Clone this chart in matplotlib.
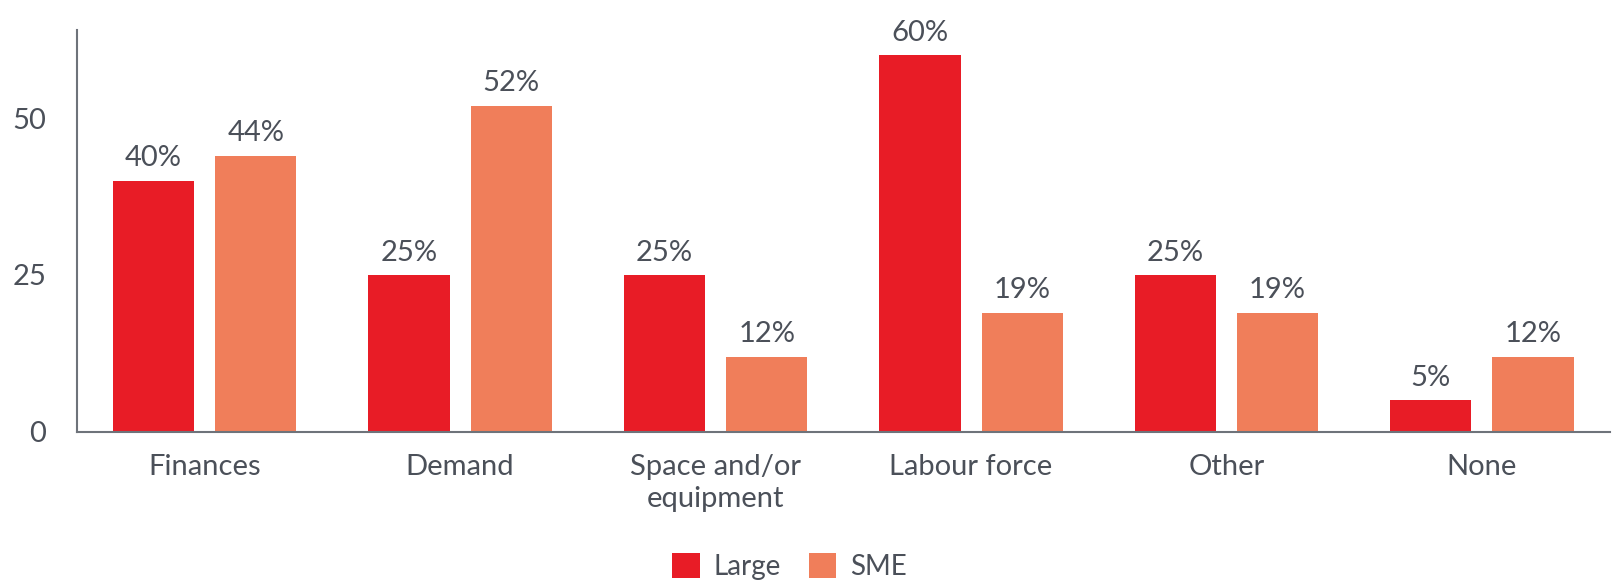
import matplotlib.pyplot as plt
import numpy as np

categories = ["Finances", "Demand", "Space and/or\nequipment", "Labour force", "Other", "None"]
large = [40, 25, 25, 60, 25, 5]
sme = [44, 52, 12, 19, 19, 12]

RED = "#E81C26"
SALMON = "#F07E5A"
TXT = "#4B5059"
AXC = "#6E737A"

plt.rcParams["font.family"] = ["Lato", "DejaVu Sans"]

fig = plt.figure(figsize=(16.21, 5.82), dpi=100)
ax = fig.add_axes([0.0475, 0.258, 0.9455, 0.69])

x = np.arange(len(categories))
w = 0.318
b1 = ax.bar(x - 0.2, large, w, color=RED, label="Large")
b2 = ax.bar(x + 0.2, sme, w, color=SALMON, label="SME")

for bars, vals in ((b1, large), (b2, sme)):
    for r, v in zip(bars, vals):
        ax.text(r.get_x() + r.get_width() / 2, v + 1.5, f"{v}%",
                ha="center", va="bottom", fontsize=21, color=TXT)

ax.set_xlim(-0.5, 5.5)
ax.set_ylim(0, 64)
ax.set_yticks([0, 25, 50])
ax.set_xticks(x)
ax.set_xticklabels(categories, linespacing=1.3)
ax.tick_params(axis="both", length=0, labelsize=21, labelcolor=TXT)
ax.tick_params(axis="y", pad=22)
ax.tick_params(axis="x", pad=16)
for s in ("top", "right"):
    ax.spines[s].set_visible(False)
for s in ("left", "bottom"):
    ax.spines[s].set_color(AXC)
    ax.spines[s].set_linewidth(1.5)

fig.legend(loc="center", bbox_to_anchor=(0.487, 0.026), ncol=2, frameon=False,
           fontsize=20, labelcolor=TXT, handlelength=1.0, handleheight=1.0,
           columnspacing=1.0, handletextpad=0.5, borderpad=0.1)

fig.savefig("out.png", dpi=100)
